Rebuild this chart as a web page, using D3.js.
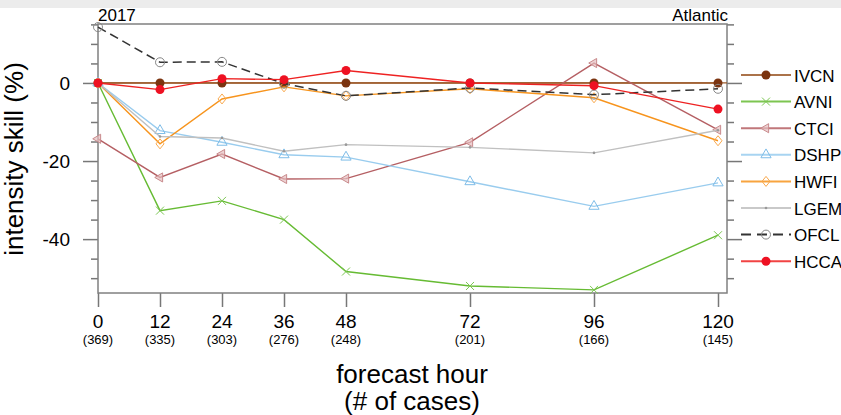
<!DOCTYPE html>
<html>
<head>
<meta charset="utf-8">
<script src="https://cdn.jsdelivr.net/npm/d3@7"></script>
<style>
body { margin: 0; background: #fff; }
svg text { font-family: "Liberation Sans", Arial, Helvetica, sans-serif; fill: #000; }
</style>
</head>
<body>
<script>
// forecast hours and number of cases
var hours = [0, 12, 24, 36, 48, 72, 96, 120];
var cases = [369, 335, 303, 276, 248, 201, 166, 145];

// intensity skill (%) per model
var ivcn = [0, 0, 0, 0, 0, 0, 0, 0];
var avni = [0, -32.7, -30.2, -35, -48.3, -52, -53, -39];
var ctci = [-14.3, -24.2, -18.2, -24.6, -24.5, -15.2, 5.1, -12];
var dshp = [0, -12.2, -15.2, -18.4, -19, -25.3, -31.6, -25.6];
var hwfi = [0, -15.6, -4.1, -1, -3.3, -1.5, -3.8, -14.8];
var lgem = [0, -13.7, -14.1, -17.5, -15.8, -16.5, -17.9, -12.1];
var ofcl = [14.3, 5.3, 5.4, -0.2, -3.3, -1.3, -3, -1.5];
var hcca = [0, -1.7, 1.1, 0.85, 3.2, 0, -0.7, -6.7];

var models = [
  {name: "IVCN", values: ivcn, color: "#9c5a2a", mark: "dot", mcolor: "#7b3410"},
  {name: "AVNI", values: avni, color: "#66bb33", mark: "x", mcolor: "#7cc653"},
  {name: "CTCI", values: ctci, color: "#b55f63", mark: "ltri", mcolor: "#c98a8c"},
  {name: "DSHP", values: dshp, color: "#99ccee", mark: "tri", mcolor: "#7fbde8"},
  {name: "HWFI", values: hwfi, color: "#f7941d", mark: "diamond", mcolor: "#f9a94e"},
  {name: "LGEM", values: lgem, color: "#c0c0c0", mark: "small", mcolor: "#999"},
  {name: "OFCL", values: ofcl, color: "#333", mark: "ring", mcolor: "#888", dash: "9,5"},
  {name: "HCCA", values: hcca, color: "#ee2222", mark: "dot", mcolor: "#ee1122"}
];

function drawChart()
{
  var width = 841, height = 415;
  var pl = 98, pr = 727, pt = 24, pb = 293;

  var svg = d3.select("body").append("svg")
      .attr("width", width)
      .attr("height", height);

  svg.append("rect").attr("x", 0).attr("y", 0).attr("width", width).attr("height", 8).attr("fill", "#ececec");

  var x = d3.scaleLinear().domain([0, 120]).range([pl, 718]);
  var y = d3.scaleLinear().domain([-53.8, 15.1]).range([pb, pt]);

  var minor = d3.range(-50, 16, 5).filter(function (v) { return v % 20 != 0; });
  var major = [-40, -20, 0];

  // left axis
  svg.append("g").attr("transform", "translate(" + pl + ",0)")
     .call(d3.axisLeft(y).tickValues(minor).tickSize(7).tickFormat(""));
  svg.append("g").attr("class", "ylab").attr("transform", "translate(" + pl + ",0)")
     .call(d3.axisLeft(y).tickValues(major).tickSize(15).tickPadding(13)
       .tickFormat(function (d) { return String(d); }));
  // right axis
  svg.append("g").attr("transform", "translate(" + pr + ",0)")
     .call(d3.axisRight(y).tickValues(minor).tickSize(7).tickFormat(""));
  svg.append("g").attr("transform", "translate(" + pr + ",0)")
     .call(d3.axisRight(y).tickValues(major).tickSize(15).tickFormat(""));
  // bottom axis
  svg.append("g").attr("transform", "translate(0," + pb + ")")
     .call(d3.axisBottom(x).tickValues(hours).tickSize(14).tickFormat(""));

  svg.selectAll(".domain").remove();
  svg.selectAll(".tick line").attr("stroke", "#777").attr("stroke-width", 1.5);
  svg.selectAll(".ylab text").style("font-size", "19px").attr("fill", "#000");

  // frame
  svg.append("rect").attr("x", pl).attr("y", pt)
     .attr("width", pr - pl).attr("height", pb - pt)
     .attr("fill", "none").attr("stroke", "#808080").attr("stroke-width", 1.5);

  // zero reference line
  svg.append("line").attr("x1", pl).attr("x2", pr)
     .attr("y1", y(0)).attr("y2", y(0)).attr("stroke", "#9c5a2a").attr("stroke-width", 1.2);

  // x tick labels
  var xl = svg.append("g");
  xl.selectAll(".hr").data(hours).enter().append("text")
    .attr("x", function (d) { return x(d); }).attr("y", 328)
    .attr("text-anchor", "middle").style("font-size", "19px")
    .text(function (d) { return d; });
  xl.selectAll(".nc").data(cases).enter().append("text")
    .attr("x", function (d, i) { return x(hours[i]); }).attr("y", 344)
    .attr("text-anchor", "middle").style("font-size", "13px")
    .text(function (d) { return "(" + d + ")"; });

  svg.append("text").attr("x", 412).attr("y", 383).attr("text-anchor", "middle")
     .style("font-size", "26px").text("forecast hour");
  svg.append("text").attr("x", 412).attr("y", 410).attr("text-anchor", "middle")
     .style("font-size", "26px").text("(# of cases)");

  svg.append("text").attr("transform", "translate(23,159) rotate(-90)")
     .attr("text-anchor", "middle").style("font-size", "26px").text("intensity skill (%)");

  svg.append("text").attr("x", pl).attr("y", 21).style("font-size", "17px").text("2017");
  svg.append("text").attr("x", pr + 1).attr("y", 21).attr("text-anchor", "end")
     .style("font-size", "17px").text("Atlantic");

  function marker(g, kind, color) {
    if (kind == "dot") {
      g.append("circle").attr("r", 4.5).attr("fill", color);
    } else if (kind == "ring") {
      g.append("circle").attr("r", 4.5).attr("fill", "none").attr("stroke", color).attr("stroke-width", 1);
    } else if (kind == "small") {
      g.append("circle").attr("r", 1.3).attr("fill", color);
    } else if (kind == "x") {
      g.append("path").attr("d", "M-4,-4L4,4M-4,4L4,-4").attr("stroke", color).attr("stroke-width", 1);
    } else if (kind == "tri") {
      g.append("path").attr("d", d3.symbol().type(d3.symbolTriangle).size(45))
       .attr("fill", "none").attr("stroke", color).attr("stroke-width", 1);
    } else if (kind == "ltri") {
      g.append("path").attr("d", d3.symbol().type(d3.symbolTriangle).size(36))
       .attr("transform", "rotate(-90)")
       .attr("fill", "#e6bfc0").attr("fill-opacity", 0.7).attr("stroke", color).attr("stroke-width", 1);
    } else if (kind == "diamond") {
      g.append("path").attr("d", "M0,-5L4,0L0,5L-4,0Z")
       .attr("fill", "none").attr("stroke", color).attr("stroke-width", 1);
    }
  }

  var line = d3.line()
      .x(function (d, i) { return x(hours[i]); })
      .y(function (d) { return y(d); });

  models.forEach(function (m) {
    svg.append("path").datum(m.values)
       .attr("d", line).attr("fill", "none")
       .attr("stroke", m.color).attr("stroke-width", m.name == "OFCL" ? 1.5 : 1.4)
       .attr("stroke-dasharray", m.dash || null);
    m.values.forEach(function (v, i) {
      var g = svg.append("g").attr("transform", "translate(" + x(hours[i]) + "," + y(v) + ")");
      marker(g, m.mark, m.mcolor);
    });
  });

  // legend
  var leg = svg.append("g");
  models.forEach(function (m, i) {
    var ly = 75 + i * 26.6;
    var row = leg.append("g").attr("transform", "translate(0," + ly + ")");
    row.append("line").attr("x1", 741).attr("x2", 791).attr("y1", 0).attr("y2", 0)
       .attr("stroke", m.color).attr("stroke-width", 2)
       .attr("stroke-opacity", m.name == "OFCL" ? 1 : 0.85)
       .attr("stroke-dasharray", m.dash ? "10,6" : null);
    var g = row.append("g").attr("transform", "translate(766,0)");
    marker(g, m.mark, m.mcolor);
    row.append("text").attr("x", 794).attr("y", 6.5).style("font-size", "17px").text(m.name);
  });
}
window.onload = drawChart;
</script>
</body>
</html>
